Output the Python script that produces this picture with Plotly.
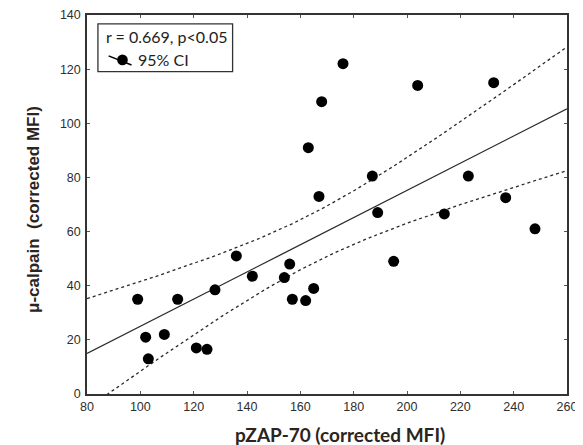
import numpy as np
import plotly.graph_objects as go

# Data
pzap70 = [99, 102, 103, 109, 114, 121, 125, 128, 136, 142, 154, 156, 157,
          162, 165, 195, 248, 176, 168, 163, 204, 232.5, 187, 223, 167, 237, 189, 214]
calpain = [35, 21, 13, 22, 35, 17, 16.5, 38.5, 51, 43.5, 43, 48, 35,
           34.5, 39, 49, 61, 122, 108, 91, 114, 115, 80.5, 80.5, 73, 72.5, 67, 66.5]
x_ticks = [80, 100, 120, 140, 160, 180, 200, 220, 240, 260]
y_ticks = [0, 20, 40, 60, 80, 100, 120, 140]
x_title = "<b>pZAP-70 (corrected MFI)</b>"
y_title = "<b>μ-calpain  (corrected MFI)</b>"
stat_label = "r = 0.669, p<0.05"
ci_label = "95% CI"
t_crit = 2.056  # t(0.975, df=26)

x = np.array(pzap70, dtype=float)
y = np.array(calpain, dtype=float)
n = len(x)
b1, b0 = np.polyfit(x, y, 1)
xs = np.linspace(x_ticks[0], x_ticks[-1], 200)
yhat = b0 + b1 * xs
resid = y - (b0 + b1 * x)
s = np.sqrt(np.sum(resid ** 2) / (n - 2))
sxx = np.sum((x - x.mean()) ** 2)
se = s * np.sqrt(1.0 / n + (xs - x.mean()) ** 2 / sxx)
upper = yhat + t_crit * se
lower = yhat - t_crit * se

# page offset (default body margin) compensation
OFF = 8
W, H = 583 - OFF, 445 - OFF
L, R, T, B = 87 - OFF, 16, 15 - OFF, 51
PW, PH = W - L - R, H - T - B


def px_x(px):
    return (px - OFF - L) / PW


def px_y(py):
    return (H - B - (py - OFF)) / PH


fig = go.Figure()
line_col = "#2a2a2a"
fig.add_trace(go.Scatter(x=xs, y=upper, mode="lines",
                         line=dict(color=line_col, width=1.3, dash="3px,3px"), hoverinfo="skip"))
fig.add_trace(go.Scatter(x=xs, y=lower, mode="lines",
                         line=dict(color=line_col, width=1.3, dash="3px,3px"), hoverinfo="skip"))
fig.add_trace(go.Scatter(x=xs, y=yhat, mode="lines",
                         line=dict(color=line_col, width=1.3), hoverinfo="skip"))
fig.add_trace(go.Scatter(x=pzap70, y=calpain, mode="markers",
                         marker=dict(color="black", size=11), cliponaxis=False))

axis_common = dict(showgrid=False, zeroline=False, showline=True, linecolor="#333333",
                   linewidth=1.5, mirror="ticks", ticks="inside", ticklen=3, automargin=False,
                   ticklabeloverflow="allow", tickcolor="#555555",
                   tickfont=dict(family="Liberation Sans", size=12.5, color="#2e2e2e"))
fig.update_xaxes(range=[x_ticks[0], x_ticks[-1]], tickvals=x_ticks, **axis_common)
fig.update_yaxes(range=[y_ticks[0], y_ticks[-1]], tickvals=y_ticks, ticklabelstandoff=2,
                 **axis_common)

# Axis titles
fig.add_annotation(x=px_x(340), y=px_y(434), xref="paper", yref="paper", text=x_title,
                   showarrow=False, xanchor="center", yanchor="middle",
                   font=dict(family="Lato", size=19, color="#2b2420"))
fig.add_annotation(x=px_x(33), y=px_y(210), xref="paper", yref="paper", text=y_title,
                   showarrow=False, textangle=-90, xanchor="center", yanchor="middle",
                   font=dict(family="Liberation Sans", size=17, color="#2b2420"))

# Legend box
fig.add_shape(type="rect", xref="x", yref="y", x0=84.1, x1=134.6, y0=119.1, y1=136.7,
              line=dict(color="#333333", width=1.3), fillcolor="white", layer="above")
fig.add_annotation(x=86.4, y=132.2, xref="x", yref="y", text=stat_label, showarrow=False,
                   xanchor="left", yanchor="middle",
                   font=dict(family="Lato", size=16, color="#222"))
fig.add_annotation(x=98.2, y=123.4, xref="x", yref="y", text=ci_label, showarrow=False,
                   xanchor="left", yanchor="middle",
                   font=dict(family="Lato", size=16, color="#222"))
fig.add_shape(type="line", xref="x", yref="y", x0=88.1, y0=124.9, x1=96.7, y1=121.5,
              line=dict(color="black", width=1.6), layer="above")
fig.add_shape(type="circle", xref="x", yref="y", x0=91.3, x1=95.3, y0=121.4, y1=125.4,
              line=dict(color="black", width=0), fillcolor="black", layer="above")

fig.update_layout(width=W, height=H, plot_bgcolor="white", paper_bgcolor="white",
                  showlegend=False, margin=dict(l=L, r=R, t=T, b=B))
fig.write_html("out.html")
